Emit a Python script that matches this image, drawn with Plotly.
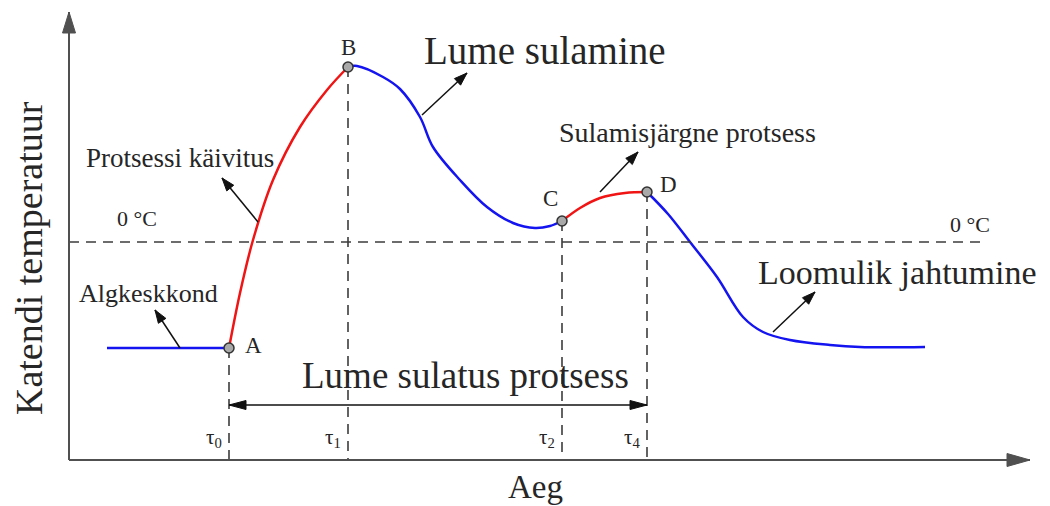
import math

import plotly.graph_objects as go

BLUE = "#1414F0"
RED = "#F01414"
INK = "#262626"
AXIS_COLOR = "#505050"
DASH_COLOR = "#3C3C3C"
SERIF = "Liberation Serif, Times New Roman, serif"

# time / temperature (origin = corner of the axes)
START_T = [38, 160]
START_Y = [112, 112]
RISE_T = [160, 171, 184, 204, 231, 258, 279]
RISE_Y = [112, 167, 220, 280, 333, 370, 393]
MELT_T = [279, 288, 314, 331, 351, 364, 391, 418, 444, 466, 481, 493]
MELT_Y = [393, 394, 383, 371, 343, 313, 280, 253, 237, 232, 234, 239]
POST_T = [493, 511, 531, 556, 578]
POST_Y = [239, 252, 262, 267, 268]
COOL_T = [578, 599, 621, 648, 674, 694, 721, 761, 791, 856]
COOL_Y = [268, 246, 218, 183, 143, 128, 120, 115, 113, 113]

KEY_NAMES = ["A", "B", "C", "D"]
KEY_T = [160, 279, 493, 578]
KEY_Y = [112, 393, 239, 268]
TAU_LABELS = ["τ<sub>0</sub>", "τ<sub>1</sub>", "τ<sub>2</sub>", "τ<sub>4</sub>"]
ZERO_Y = 218
T_END = 961
Y_TOP = 448


def _arrow(fig, x0, y0, x1, y1, head_len=13, head_w=9, width=1.5, color="#111111", both=False):
    fig.add_shape(type="line", x0=x0, y0=y0, x1=x1, y1=y1, line=dict(color=color, width=width))
    heads = [(x0, y0, x1, y1)]
    if both:
        heads.append((x1, y1, x0, y0))
    for sx, sy, hx, hy in heads:
        d = math.hypot(hx - sx, hy - sy)
        ux, uy = (hx - sx) / d, (hy - sy) / d
        bx, by = hx - ux * head_len, hy - uy * head_len
        px, py = -uy * head_w / 2, ux * head_w / 2
        path = f"M{hx},{hy} L{bx + px},{by + py} L{bx - px},{by - py} Z"
        fig.add_shape(type="path", path=path, fillcolor=color, line=dict(color=color, width=1))


def _text(fig, x, y, text, size, **kw):
    fig.add_annotation(
        x=x, y=y, text=text, showarrow=False,
        font=dict(family=SERIF, size=size, color=INK), **kw
    )


fig = go.Figure()

# dashed guides from the key points down to the time axis
guide_x, guide_y = [], []
for t, y in zip(KEY_T, KEY_Y):
    guide_x += [t, t, None]
    guide_y += [y, 0, None]
fig.add_trace(go.Scatter(x=guide_x, y=guide_y, mode="lines",
                         line=dict(color=DASH_COLOR, width=1.6, dash="10px,7px"), hoverinfo="skip"))
fig.add_shape(type="line", x0=0, x1=916, y0=ZERO_Y, y1=ZERO_Y,
              line=dict(color=DASH_COLOR, width=1.6, dash="10px,7px"))

segments = [
    (START_T, START_Y, BLUE),
    (RISE_T, RISE_Y, RED),
    (MELT_T, MELT_Y, BLUE),
    (POST_T, POST_Y, RED),
    (COOL_T, COOL_Y, BLUE),
]
for xs, ys, color in segments:
    fig.add_trace(go.Scatter(x=xs, y=ys, mode="lines",
                             line=dict(color=color, width=2.5, shape="spline"), hoverinfo="skip"))

fig.add_trace(go.Scatter(
    x=KEY_T, y=KEY_Y, mode="markers",
    marker=dict(size=10, color="#A9A9A9", line=dict(color="#333333", width=1.5)),
    hoverinfo="skip",
))

# axes with arrow tips
_arrow(fig, 0, 0, 0, Y_TOP, head_len=21, head_w=13, width=2, color=AXIS_COLOR)
_arrow(fig, 0, 0, T_END, 0, head_len=23, head_w=13, width=2, color=AXIS_COLOR)

# key point letters
offsets = [(24, 3), (0, 20), (-12, 23), (21, 8)]
for name, t, y, (dx, dy) in zip(KEY_NAMES, KEY_T, KEY_Y, offsets):
    _text(fig, t + dx, y + dy, name, 23)

for label, t in zip(TAU_LABELS, KEY_T):
    _text(fig, t - 5, 22, label, 21, xanchor="right")

_text(fig, 68, 242, "0 °C", 22)
_text(fig, 901, 236, "0 °C", 22)

# process span
_arrow(fig, KEY_T[0], 55, KEY_T[3], 55, head_len=17, head_w=9, width=1.5, both=True)
_text(fig, 396, 85, "Lume sulatus protsess", 37)

# callouts
_text(fig, 79, 167, "Algkeskkond", 26)
_arrow(fig, 111, 112, 86, 150)
_text(fig, 111, 302, "Protsessi käivitus", 27)
_arrow(fig, 189, 238, 153, 282)
_text(fig, 476, 410, "Lume sulamine", 39)
_arrow(fig, 353, 345, 398, 387)
_text(fig, 618, 328, "Sulamisjärgne protsess", 28)
_arrow(fig, 531, 268, 569, 308)
_text(fig, 828, 188, "Loomulik jahtumine", 34)
_arrow(fig, 704, 128, 746, 168)

_text(fig, 466, -27, "Aeg", 33)
_text(fig, -40, 202, "Katendi temperatuur", 38, textangle=-90)

# the page body adds an 8px offset, so the canvas is 8px smaller and ranges start 8px later
fig.update_layout(
    width=1042,
    height=498,
    autosize=False,
    margin=dict(l=0, r=0, t=0, b=0),
    paper_bgcolor="white",
    plot_bgcolor="white",
    showlegend=False,
)
fig.update_xaxes(range=[-61, 981], visible=False, fixedrange=True)
fig.update_yaxes(range=[-46, 452], visible=False, fixedrange=True)

fig.write_html("out.html")
